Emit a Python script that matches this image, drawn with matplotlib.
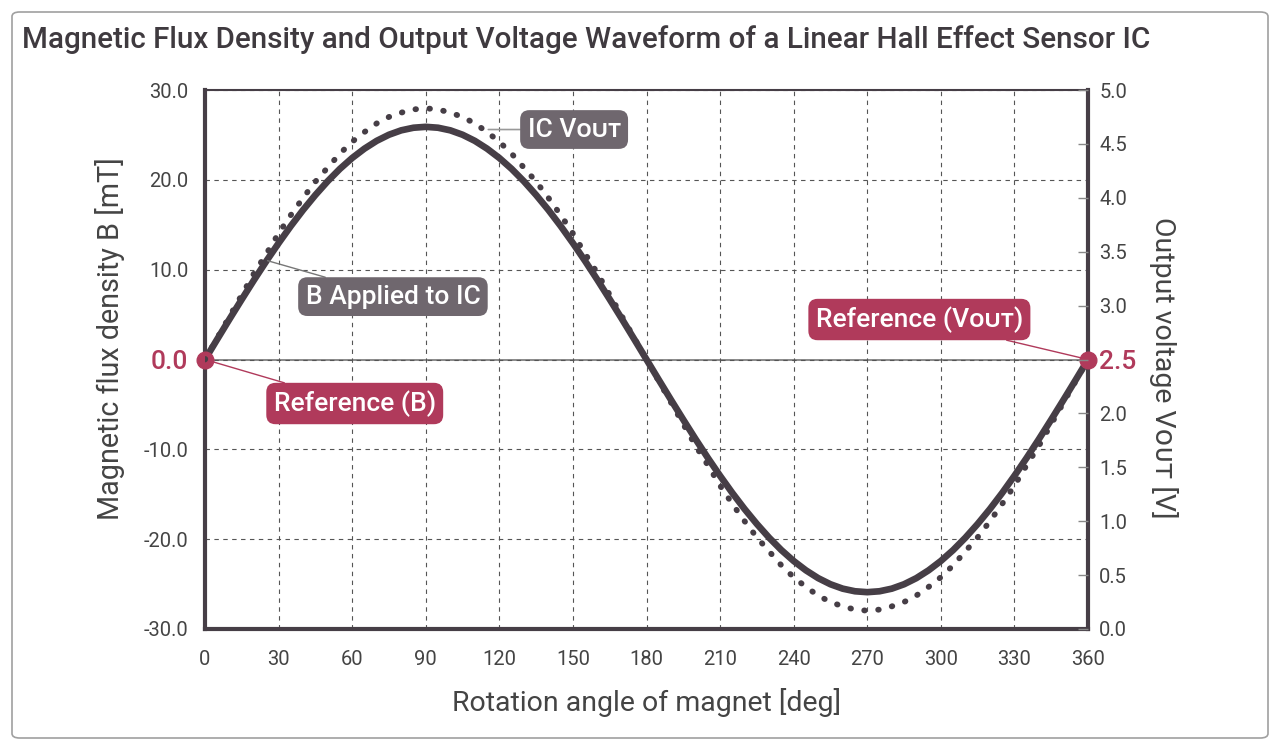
import matplotlib.pyplot as plt
from matplotlib.patches import FancyBboxPatch

plt.rcParams['font.family'] = ['Roboto', 'DejaVu Sans']

# rotation angle [deg], read every 5 deg
angle = list(range(0, 361, 5))
# B applied to IC [mT] (solid)
b_field = [0.0, 2.26, 4.50, 6.70, 8.86, 10.95, 12.95, 14.86, 16.65, 18.31, 19.84, 21.22, 22.43,
           23.47, 24.34, 25.02, 25.51, 25.80, 25.9,
           25.80, 25.51, 25.02, 24.34, 23.47, 22.43, 21.22, 19.84, 18.31, 16.65, 14.86, 12.95,
           10.95, 8.86, 6.70, 4.50, 2.26, 0.0,
           -2.26, -4.50, -6.70, -8.86, -10.95, -12.95, -14.86, -16.65, -18.31, -19.84, -21.22,
           -22.43, -23.47, -24.34, -25.02, -25.51, -25.80, -25.9,
           -25.80, -25.51, -25.02, -24.34, -23.47, -22.43, -21.22, -19.84, -18.31, -16.65,
           -14.86, -12.95, -10.95, -8.86, -6.70, -4.50, -2.26, 0.0]
# IC output voltage [V] (dotted)
vout = [2.50, 2.70, 2.90, 3.10, 3.30, 3.48, 3.67, 3.84, 4.00, 4.15, 4.28, 4.41, 4.52, 4.61,
        4.69, 4.75, 4.79, 4.82, 4.83,
        4.82, 4.79, 4.75, 4.69, 4.61, 4.52, 4.41, 4.28, 4.15, 4.00, 3.84, 3.67, 3.48, 3.30,
        3.10, 2.90, 2.70, 2.50,
        2.30, 2.10, 1.90, 1.70, 1.52, 1.33, 1.16, 1.00, 0.85, 0.72, 0.59, 0.48, 0.39, 0.31,
        0.25, 0.21, 0.18, 0.17,
        0.18, 0.21, 0.25, 0.31, 0.39, 0.48, 0.59, 0.72, 0.85, 1.00, 1.16, 1.33, 1.52, 1.70,
        1.90, 2.10, 2.30, 2.50]

x_ticks = list(range(0, 361, 30))
b_ticks = [-30, -20, -10, 0, 10, 20, 30]
v_ticks = [0.0, 0.5, 1.0, 1.5, 2.0, 2.5, 3.0, 3.5, 4.0, 4.5, 5.0]

dark = '#463e46'
red = '#b03a5b'
boxgray = '#6f676e'
textgray = '#444444'
OUT = '\u1d0f\u1d1c\u1d1b'

fig = plt.figure(figsize=(12.8, 7.5), dpi=100)
fig.patches.append(FancyBboxPatch((12 / 1280, 12 / 750), 1256 / 1280, 726 / 750,
                                  boxstyle='round,pad=0,rounding_size=0.006',
                                  transform=fig.transFigure, facecolor='white',
                                  edgecolor='#a0a0a0', linewidth=1.2, zorder=-1))
fig.text(22 / 1280, 1 - 40 / 750,
         'Magnetic Flux Density and Output Voltage Waveform of a Linear Hall Effect Sensor IC',
         fontsize=21.3, fontweight='medium', color='#3f3a3f', va='center', ha='left')

ax = fig.add_axes([205 / 1280, 1 - 629 / 750, 883 / 1280, 539 / 750])
ax.set_xlim(0, 360)
ax.set_ylim(-30, 30)
ax.set_xticks(x_ticks)
ax.set_yticks(b_ticks)
ax.set_yticklabels([f'{v:.1f}' for v in b_ticks])
ax.tick_params(axis='both', length=0, labelsize=14.5, labelcolor=textgray)
ax.tick_params(axis='y', pad=12)
ax.tick_params(axis='x', pad=15)
for lab in ax.get_yticklabels():
    if lab.get_text() == '0.0':
        lab.set_color(red)
        lab.set_fontsize(19)
        lab.set_fontweight('medium')
ax.grid(True, linestyle=(0, (4, 4)), color='#555555', linewidth=0.8)
ax.axhline(0, color='#777777', linewidth=1.2, zorder=1)
for side in ['left', 'bottom', 'right']:
    ax.spines[side].set_linewidth(3)
    ax.spines[side].set_color(dark)
ax.spines['top'].set_linewidth(1.5)
ax.spines['top'].set_color(dark)

ax.plot(angle, b_field, color=dark, linewidth=4.8, solid_capstyle='round',
        solid_joinstyle='round', zorder=3)

ax2 = ax.twinx()
ax2.set_ylim(0, 5)
ax2.set_yticks(v_ticks)
ax2.set_yticklabels([f'{v:.1f}' for v in v_ticks])
ax2.tick_params(axis='y', direction='in', length=7, width=1, color='#888888',
                labelsize=14.5, labelcolor=textgray, pad=8)
for lab in ax2.get_yticklabels():
    if lab.get_text() == '2.5':
        lab.set_color(red)
        lab.set_fontsize(19)
        lab.set_fontweight('medium')
for side in ['left', 'bottom', 'right', 'top']:
    ax2.spines[side].set_visible(False)
ax2.plot(angle, vout, color=dark, linewidth=4.2, linestyle=(0, (0.1, 2.3)),
         dash_capstyle='round', zorder=3)

ax.set_xlabel('Rotation angle of magnet [deg]', fontsize=20.5, color=textgray, labelpad=14)
ax.set_ylabel('Magnetic flux density B [mT]', fontsize=20.7, color=textgray)
ax.yaxis.set_label_coords(-0.091, 0.538)
ax2.set_ylabel('Output voltage V' + OUT + ' [V]', fontsize=20.5, color=textgray,
               rotation=-90, va='center')
ax2.yaxis.set_label_coords(1.085, 0.484)

# reference markers
ax.plot([0, 360], [0, 0], 'o', color=red, markersize=12, clip_on=False, zorder=5)

gray_box = dict(boxstyle='round,pad=0.28,rounding_size=0.35', facecolor=boxgray, edgecolor='none')
red_box = dict(boxstyle='round,pad=0.28,rounding_size=0.35', facecolor=red, edgecolor='none')

ax.annotate('IC V' + OUT, xy=(115.5, 25.6), xytext=(131.5, 25.6),
            fontsize=19, color='white', fontweight='medium', ha='left', va='center',
            bbox=gray_box, arrowprops=dict(arrowstyle='-', color='#999999', lw=1.2,
                                           shrinkA=0, shrinkB=0), zorder=6)
ax.annotate('B Applied to IC', xy=(25.5, 11.0), xytext=(41, 7.0),
            fontsize=19, color='white', fontweight='medium', ha='left', va='center',
            bbox=gray_box, arrowprops=dict(arrowstyle='-', color='#777777', lw=1.0,
                                           shrinkA=0, shrinkB=0), zorder=6)
ax.annotate('Reference (B)', xy=(0, 0), xytext=(28, -4.9),
            fontsize=19, color='white', fontweight='medium', ha='left', va='center',
            bbox=red_box, arrowprops=dict(arrowstyle='-', color=red, lw=1.0,
                                          shrinkA=0, shrinkB=0), zorder=6)
ax.annotate('Reference (V' + OUT + ')', xy=(360, 0), xytext=(333.5, 4.45),
            fontsize=19, color='white', fontweight='medium', ha='right', va='center',
            bbox=red_box, arrowprops=dict(arrowstyle='-', color=red, lw=1.0,
                                          shrinkA=0, shrinkB=0), zorder=6)

fig.savefig('out.png', dpi=100)
